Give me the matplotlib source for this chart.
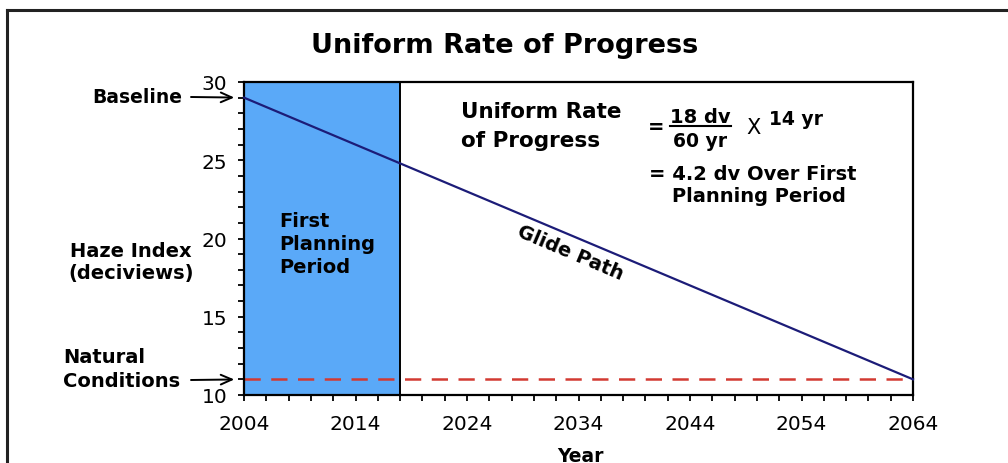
import matplotlib
matplotlib.use("Agg")
import matplotlib.pyplot as plt
from matplotlib.lines import Line2D
from matplotlib.ticker import MultipleLocator

# ---- data ----
glide_years = [2004, 2064]
glide_values = [29, 11]
baseline_value = 29
natural_value = 11
period_start = 2004
period_end = 2018
x_ticks = [2004, 2014, 2024, 2034, 2044, 2054, 2064]
y_ticks = [10, 15, 20, 25, 30]

W, H = 1008, 464
BLUE = "#5aa9f8"
NAVY = "#1c1c78"
RED = "#d23a32"

plt.rcParams["font.family"] = ["DejaVu Sans"]

fig = plt.figure(figsize=(W / 100, H / 100), dpi=100)
fig.patch.set_facecolor("white")


def P(x, y):
    return (x / W, 1 - y / H)


ax = fig.add_axes([244 / W, 1 - 396 / H, 669 / W, 313 / H])
ax.axvspan(period_start, period_end, color=BLUE, lw=0, zorder=0)
ax.axvline(period_end, color="black", lw=1.4, zorder=2)
ax.plot(glide_years, glide_values, color=NAVY, lw=1.6, zorder=3, clip_on=False)
ax.plot([glide_years[0], glide_years[-1]], [natural_value, natural_value],
        color=RED, lw=1.8, dashes=(6.5, 4.2), zorder=2)

ax.set_xlim(2004, 2064)
ax.set_ylim(10, 30)
ax.set_xticks(x_ticks)
ax.set_yticks(y_ticks)
ax.xaxis.set_minor_locator(MultipleLocator(2))
ax.yaxis.set_minor_locator(MultipleLocator(1))
ax.tick_params(which="both", direction="out", length=4.6, width=1.3, color="black")
ax.tick_params(axis="x", pad=8.8, labelsize=14.5)
ax.tick_params(axis="y", pad=7.3, labelsize=14.5)
for s in ax.spines.values():
    s.set_linewidth(1.6)

# title
fig.text(*P(505, 53), "Uniform Rate of Progress", ha="center", va="baseline",
         fontsize=19.5, fontweight="bold")

# left labels
fig.text(*P(182, 103), "Baseline", ha="right", va="baseline", fontsize=13.5, fontweight="bold")
fig.text(*P(131, 257), "Haze Index", ha="center", va="baseline", fontsize=14, fontweight="bold")
fig.text(*P(131, 279), "(deciviews)", ha="center", va="baseline", fontsize=14, fontweight="bold")
fig.text(*P(63, 363), "Natural", ha="left", va="baseline", fontsize=14, fontweight="bold")
fig.text(*P(63, 387), "Conditions", ha="left", va="baseline", fontsize=14, fontweight="bold")

arrow = dict(arrowstyle="->,head_length=0.8,head_width=0.35", lw=1.4, color="black",
             shrinkA=0, shrinkB=7)
ax.annotate("", xy=(glide_years[0], baseline_value), xycoords="data",
            xytext=(191, H - 98), textcoords="figure pixels", arrowprops=arrow,
            annotation_clip=False)
ax.annotate("", xy=(glide_years[0], natural_value), xycoords="data",
            xytext=(191, H - 381), textcoords="figure pixels", arrowprops=arrow,
            annotation_clip=False)

# first planning period
for txt, yb in [("First", 227), ("Planning", 250), ("Period", 273)]:
    fig.text(*P(279, yb), txt, ha="left", va="baseline", fontsize=14, fontweight="bold")

# glide path label
fig.text(*P(570, 253), "Glide Path", ha="center", va="center", rotation=-23,
         rotation_mode="anchor", fontsize=14, fontweight="bold")

# equation block
fig.text(*P(461, 118), "Uniform Rate", ha="left", va="baseline", fontsize=15.5, fontweight="bold")
fig.text(*P(461, 147), "of Progress", ha="left", va="baseline", fontsize=15.5, fontweight="bold")
fig.text(*P(648, 133), "=", ha="left", va="baseline", fontsize=14, fontweight="bold")
fig.text(*P(700, 123), "18 dv", ha="center", va="baseline", fontsize=14, fontweight="bold")
fig.add_artist(Line2D([670 / W, 731 / W], [1 - 127 / H, 1 - 127 / H], color="black", lw=1.5))
fig.text(*P(700, 147), "60 yr", ha="center", va="baseline", fontsize=13.5, fontweight="bold")
fig.text(*P(746, 134), "X", ha="left", va="baseline", fontsize=15)
fig.text(*P(769, 125), "14 yr", ha="left", va="baseline", fontsize=13.5, fontweight="bold")
fig.text(*P(649, 180), "= 4.2 dv Over First", ha="left", va="baseline", fontsize=14, fontweight="bold")
fig.text(*P(672, 202), "Planning Period", ha="left", va="baseline", fontsize=14, fontweight="bold")

# x axis label
fig.text(*P(580, 462), "Year", ha="center", va="baseline", fontsize=13.5, fontweight="bold")

# outer frame (top and left only)
fig.add_artist(Line2D([7 / W, 1.0], [1 - 11 / H, 1 - 11 / H], color="#222222", lw=2.2))
fig.add_artist(Line2D([7 / W, 7 / W], [0.0, 1 - 11 / H], color="#222222", lw=2.2))

fig.savefig("out.png", dpi=100)
